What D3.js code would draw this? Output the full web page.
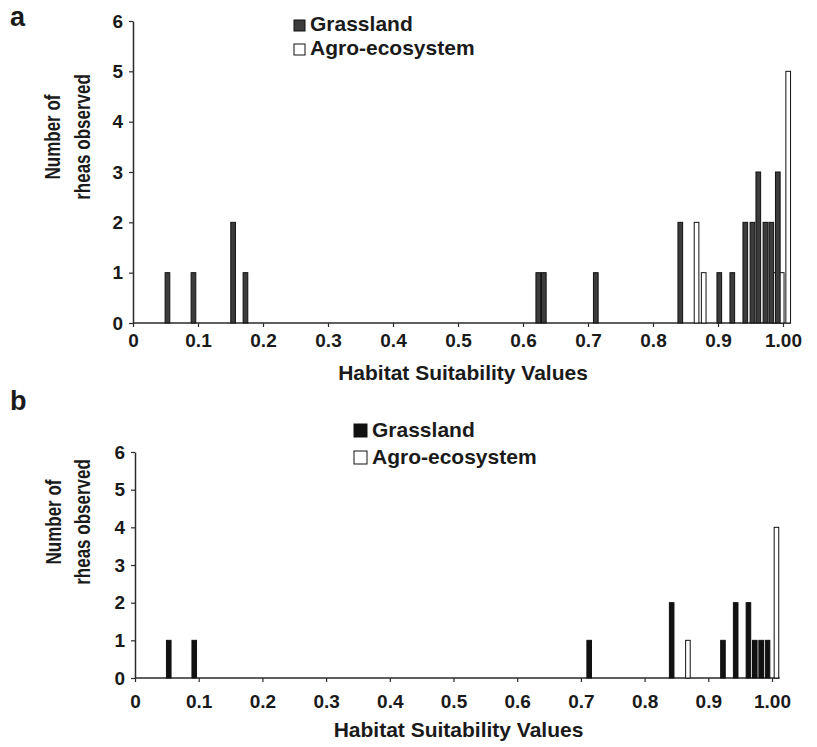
<!DOCTYPE html>
<meta charset="utf-8">
<style>
    body { margin: 0; background: #fff; }
    svg text { font-family: "Liberation Sans", Arial, Helvetica, sans-serif; font-weight: bold; fill: #1a1a1a; }
</style>
<body>
<script src="https://cdn.jsdelivr.net/npm/d3@7"></script>
<script>

// panel a values (habitat suitability, number of rheas)
var grassA_x = [0.053, 0.093, 0.154, 0.173, 0.6235, 0.632, 0.712, 0.842, 0.902, 0.922, 0.942, 0.953, 0.962, 0.973, 0.982, 0.992];
var grassA_n = [1, 1, 2, 1, 1, 1, 1, 2, 1, 1, 2, 2, 3, 2, 2, 3];
var agroA_x = [0.867, 0.878, 0.988, 0.998, 1.008];
var agroA_n = [2, 1, 1, 1, 5];

// panel b values
var grassB_x = [0.053, 0.093, 0.713, 0.8425, 0.923, 0.943, 0.963, 0.973, 0.983, 0.993];
var grassB_n = [1, 1, 1, 2, 1, 2, 2, 1, 1, 1];
var agroB_x = [0.868, 1.007];
var agroB_n = [1, 4];

var xTicks = [0, 0.1, 0.2, 0.3, 0.4, 0.5, 0.6, 0.7, 0.8, 0.9, 1.0];
var xTickLabels = ["0", "0.1", "0.2", "0.3", "0.4", "0.5", "0.6", "0.7", "0.8", "0.9", "1.00"];
var yTicks = [0, 1, 2, 3, 4, 5, 6];
var seriesNames = ["Grassland", "Agro-ecosystem"];

var svg = d3.select("body").append("svg")
    .attr("width", 817)
    .attr("height", 747);

function zip(xs, ns) {
  return xs.map(function(v, i) { return {v: v, n: ns[i]}; });
}

function panel(o) {
  var x = d3.scaleLinear().domain([0, 1]).range([o.left, o.right]);
  var y = d3.scaleLinear().domain([0, 6]).range([o.bottom, o.top]);
  var half = 0.0036;
  var g = svg.append("g");

  // y axis
  var ya = g.append("g")
      .attr("transform", "translate(" + o.left + ",0)")
      .call(d3.axisLeft(y).tickValues(yTicks).tickFormat(d3.format("d"))
            .tickSize(4).tickSizeOuter(0).tickPadding(6));
  ya.selectAll("text").style("font-size", "19px");

  // x axis
  var xa = g.append("g")
      .attr("transform", "translate(0," + o.bottom + ")")
      .call(d3.axisBottom(x).tickValues(xTicks).tickSize(4).tickSizeOuter(0)
            .tickFormat(function(d, i) { return xTickLabels[i]; }));
  xa.select(".domain").attr("d", "M" + o.left + ",0H" + x(1.012));
  xa.selectAll("text").style("font-size", "19px").attr("dy", null).attr("y", o.tickY);

  [ya, xa].forEach(function(a) {
    a.select(".domain").attr("stroke", "#2a2a2a").attr("stroke-width", 1.5);
    a.selectAll(".tick line").attr("stroke", "#2a2a2a").attr("stroke-width", 1.2);
  });

  function bars(data, fill) {
    g.selectAll(null)
        .data(data)
      .enter().append("rect")
        .attr("x", function(d) { return x(d.v - half); })
        .attr("width", function(d) { return x(d.v + half) - x(d.v - half); })
        .attr("y", function(d) { return y(d.n); })
        .attr("height", function(d) { return y(0) - y(d.n); })
        .attr("fill", fill)
        .attr("stroke", "#111")
        .attr("stroke-width", 1);
  }
  bars(zip(o.agroX, o.agroN), "#fff");
  bars(zip(o.grassX, o.grassN), o.grassFill);

  // axis titles
  g.append("text")
      .attr("x", (o.left + o.right) / 2 + 5)
      .attr("y", o.titleY)
      .attr("text-anchor", "middle")
      .style("font-size", "21px")
      .text("Habitat Suitability Values");

  // the original y title is drawn taller than wide
  var yt = g.append("text")
      .attr("transform", "translate(0," + o.yTitleC + ") rotate(-90) scale(1,1.3)")
      .attr("text-anchor", "middle")
      .style("font-size", "17px");
  yt.append("tspan").attr("x", 0).attr("y", o.yTitleX1 / 1.3).text("Number of");
  yt.append("tspan").attr("x", 0).attr("y", o.yTitleX2 / 1.3).text("rheas observed");

  // panel letter
  g.append("text")
      .attr("x", 10)
      .attr("y", o.letterY)
      .style("font-size", "27px")
      .text(o.letter);

  // legend
  var fills = [o.grassFill, "#fff"];
  seriesNames.forEach(function(name, i) {
    g.append("rect")
        .attr("x", o.legX)
        .attr("y", o.legY + i * o.legGap - o.legSize)
        .attr("width", o.legSize)
        .attr("height", o.legSize)
        .attr("fill", fills[i])
        .attr("stroke", "#111")
        .attr("stroke-width", 1);
    g.append("text")
        .attr("x", o.legX + o.legSize + 5)
        .attr("y", o.legY + i * o.legGap)
        .style("font-size", "21px")
        .text(name);
  });
}

panel({
  left: 133, right: 783, top: 21, bottom: 323,
  grassX: grassA_x, grassN: grassA_n, agroX: agroA_x, agroN: agroA_n,
  grassFill: "#3c3c3c",
  tickY: 24, titleY: 380,
  yTitleC: 137, yTitleX1: 60, yTitleX2: 90,
  letter: "a", letterY: 26,
  legX: 294, legY: 31, legGap: 24, legSize: 11
});

panel({
  left: 135, right: 772, top: 452, bottom: 678,
  grassX: grassB_x, grassN: grassB_n, agroX: agroB_x, agroN: agroB_n,
  grassFill: "#111",
  tickY: 30, titleY: 737,
  yTitleC: 522, yTitleX1: 61, yTitleX2: 90,
  letter: "b", letterY: 410,
  legX: 354, legY: 437, legGap: 27, legSize: 13
});

</script>
</body>
